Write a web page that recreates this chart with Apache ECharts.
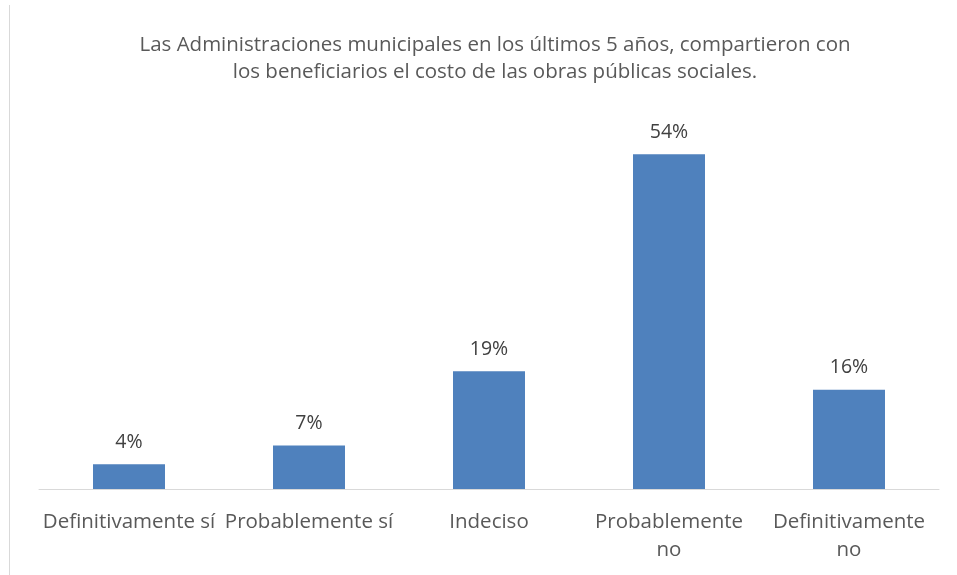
<!DOCTYPE html>
<html>
<head>
<meta charset="utf-8">
<script src="https://cdn.jsdelivr.net/npm/echarts@6/dist/echarts.min.js"></script>
<style>
  html, body { margin: 0; padding: 0; background: #fff; }
  #chart { width: 957px; height: 575px; }
</style>
</head>
<body>
<div id="chart"></div>
<script>
// Answer categories and their shares (percent)
const categories = ['Definitivamente sí', 'Probablemente sí', 'Indeciso', 'Probablemente no', 'Definitivamente no'];
const tickLabels = ['Definitivamente sí', 'Probablemente sí', 'Indeciso', 'Probablemente\nno', 'Definitivamente\nno'];
const shares = [4, 7, 19, 54, 16];
const titleText = 'Las Administraciones municipales en los últimos 5 años, compartieron con\nlos beneficiarios el costo de las obras públicas sociales.';

const FONT = '"Open Sans"';
const chart = echarts.init(document.getElementById('chart'));
chart.setOption({
  animation: false,
  backgroundColor: '#ffffff',
  title: {
    text: titleText,
    left: 490,
    textAlign: 'center',
    top: 27,
    textStyle: {
      fontFamily: FONT,
      fontSize: 20.5,
      fontWeight: 'normal',
      color: '#595959',
      lineHeight: 27
    }
  },
  graphic: [{
    type: 'line',
    shape: { x1: 9.5, y1: 5, x2: 9.5, y2: 575 },
    style: { stroke: '#d9d9d9', lineWidth: 1 }
  }],
  grid: { left: 39, right: 18, top: 117, bottom: 86 },
  xAxis: {
    type: 'category',
    data: categories,
    axisTick: { show: false },
    axisLine: { lineStyle: { color: '#d9d9d9', width: 1 } },
    axisLabel: {
      interval: 0,
      margin: 19,
      fontFamily: FONT,
      fontSize: 20.5,
      color: '#595959',
      lineHeight: 28,
      formatter: (v, i) => tickLabels[i]
    }
  },
  yAxis: {
    type: 'value',
    min: 0,
    max: 60,
    show: false,
    splitLine: { show: false }
  },
  series: [{
    type: 'bar',
    data: shares,
    barWidth: '40%',
    itemStyle: { color: '#4f81bd' },
    label: {
      show: true,
      position: 'top',
      distance: 12,
      formatter: p => p.value + '%',
      fontFamily: FONT,
      fontSize: 19.5,
      color: '#404040'
    }
  }]
});
</script>
</body>
</html>
